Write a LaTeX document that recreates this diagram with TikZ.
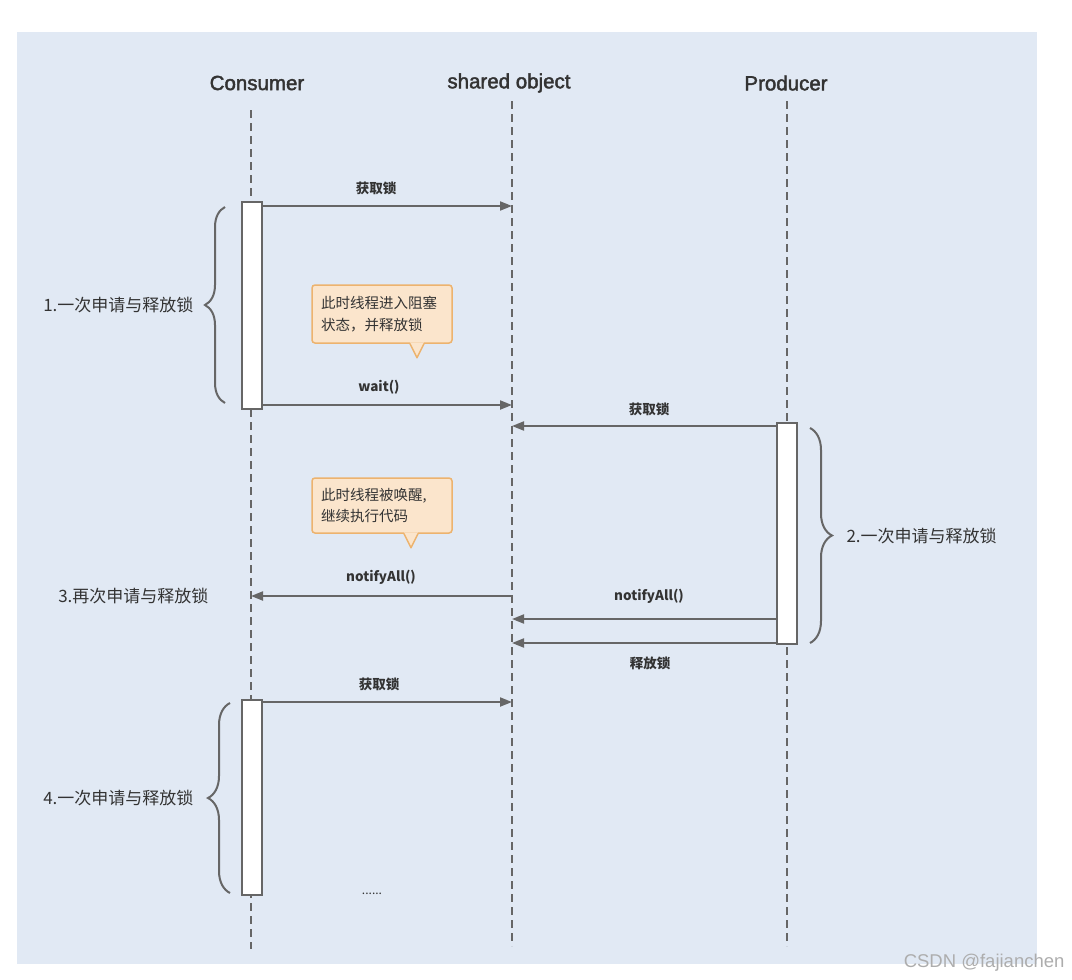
\documentclass[tikz,border=0pt]{standalone}
\usepackage{fontspec}
\setmainfont{Noto Sans CJK SC}
\newfontfamily\markfont{Liberation Sans}
\newfontfamily\headfont[FakeBold=2]{Liberation Sans}
\usetikzlibrary{arrows.meta,decorations.pathreplacing}

\definecolor{panel}{HTML}{E1E9F4}
\definecolor{ink}{HTML}{333333}
\definecolor{wire}{HTML}{666666}
\definecolor{notefill}{HTML}{FBE5CC}
\definecolor{noteline}{HTML}{EDB36E}

\tikzset{
  head/.style={text=ink, font=\headfont\fontsize{20.5}{24}\selectfont},
  lifeline/.style={draw=wire, line width=2pt, dash pattern=on 8pt off 5pt},
  act/.style={draw=wire, fill=white, line width=2pt, minimum width=20pt, inner sep=0pt},
  msg/.style={draw=wire, line width=2pt, -{Triangle[length=12pt,width=9pt]}},
  msglabel/.style={text=ink, font=\fontsize{13.5}{16}\selectfont\bfseries},
  side/.style={text=ink, font=\fontsize{17}{20}\selectfont},
  bracket/.style={draw=wire, line width=2pt, decorate,
                  decoration={brace, amplitude=#1, aspect=0.5}},
  bracket/.default=20pt,
  note/.style={draw=noteline, fill=notefill, line width=1.5pt, rounded corners=3pt,
               minimum width=140pt, text width=122pt, align=left, inner sep=0pt,
               text=ink, font=\fontsize{14.5}{21.5}\selectfont},
}

\begin{document}
\begin{tikzpicture}[x=1pt, y=-1pt]
  \useasboundingbox (0,0) rectangle (1072,980);
  % backdrop
  \fill[panel] (17,32) rectangle (1037,964);

  % participants
  \node[head] (consumer) at (257,83) {Consumer};
  \node[head] (shared)   at (509,83) {shared object};
  \node[head] (producer) at (786,83) {Producer};

  % lifelines
  \coordinate (cTop) at (251,110); \coordinate (cBot) at (251,949);
  \coordinate (sTop) at (512,101); \coordinate (sBot) at (512,946);
  \coordinate (pTop) at (787,101); \coordinate (pBot) at (787,946);
  \draw[lifeline] (cTop) -- (cBot);
  \draw[lifeline] (sTop) -- (sBot);
  \draw[lifeline] (pTop) -- (pBot);

  % activation bars
  \node[act, minimum height=207pt] (c1) at (251.5,305.5) {};
  \node[act, minimum height=221pt] (p1) at (786.5,533.5) {};
  \node[act, minimum height=195pt] (c2) at (251.5,797.5) {};

  % message end points on the shared object
  \coordinate (s1) at (512,206);
  \coordinate (s2) at (512,405);
  \coordinate (s3) at (512,426);
  \coordinate (s4) at (512,596);
  \coordinate (s5) at (512,619);
  \coordinate (s6) at (512,643);
  \coordinate (s7) at (512,702);
  \coordinate (c4) at (251,596);

  % messages
  \draw[msg] (c1.east |- s1) -- (s1);
  \node[msglabel] (l1) at (376,188) {获取锁};
  \draw[msg] (c1.east |- s2) -- (s2);
  \node[msglabel] (l2) at (379,387) {wait()};
  \draw[msg] (p1.west |- s3) -- (s3);
  \node[msglabel] (l3) at (649,409) {获取锁};
  \draw[msg] (s4) -- (c4);
  \node[msglabel] (l4) at (381,577) {notifyAll()};
  \draw[msg] (p1.west |- s5) -- (s5);
  \node[msglabel] (l5) at (649,596) {notifyAll()};
  \draw[msg] (p1.west |- s6) -- (s6);
  \node[msglabel] (l6) at (650,663) {释放锁};
  \draw[msg] (c2.east |- s7) -- (s7);
  \node[msglabel] (l7) at (379,684) {获取锁};
  \node[text=ink, font=\fontsize{12}{14}\selectfont] (more) at (372,894) {......};

  % notes
  \node[note, minimum height=58pt] (n1) at (382,314) {此时线程进入阻塞\\状态，并释放锁};
  \fill[notefill] ([xshift=28pt,yshift=1.5pt]n1.south) -- ([xshift=35pt,yshift=-14pt]n1.south) -- ([xshift=42pt,yshift=1.5pt]n1.south);
  \draw[noteline, line width=1.5pt, line join=round] ([xshift=28pt]n1.south) -- ([xshift=35pt,yshift=-14pt]n1.south) -- ([xshift=42pt]n1.south);

  \node[note, minimum height=55pt] (n2) at (382,505.5) {此时线程被唤醒,\\继续执行代码};
  \fill[notefill] ([xshift=22pt,yshift=1.5pt]n2.south) -- ([xshift=29pt,yshift=-14pt]n2.south) -- ([xshift=36pt,yshift=1.5pt]n2.south);
  \draw[noteline, line width=1.5pt, line join=round] ([xshift=22pt]n2.south) -- ([xshift=29pt,yshift=-14pt]n2.south) -- ([xshift=36pt]n2.south);

  % grouping braces and their captions
  \coordinate (b1a) at (225,403); \coordinate (b1b) at (225,207);
  \draw[bracket=20pt] (b1a) -- (b1b);
  \node[side, anchor=east] (g1) at (197,305) {1.一次申请与释放锁};

  \coordinate (b2a) at (810,428); \coordinate (b2b) at (810,643);
  \draw[bracket=22pt] (b2a) -- (b2b);
  \node[side, anchor=west] (g2) at (843,536) {2.一次申请与释放锁};

  \node[side, anchor=east] (g3) at (212,596) {3.再次申请与释放锁};

  \coordinate (b4a) at (230,893); \coordinate (b4b) at (230,703);
  \draw[bracket=22pt] (b4a) -- (b4b);
  \node[side, anchor=east] (g4) at (197,798) {4.一次申请与释放锁};

  % watermark
  \node[text=black!32, font=\markfont\fontsize{18.5}{21}\selectfont, anchor=east] (mark) at (1068,963) {CSDN @fajianchen};
\end{tikzpicture}
\end{document}
